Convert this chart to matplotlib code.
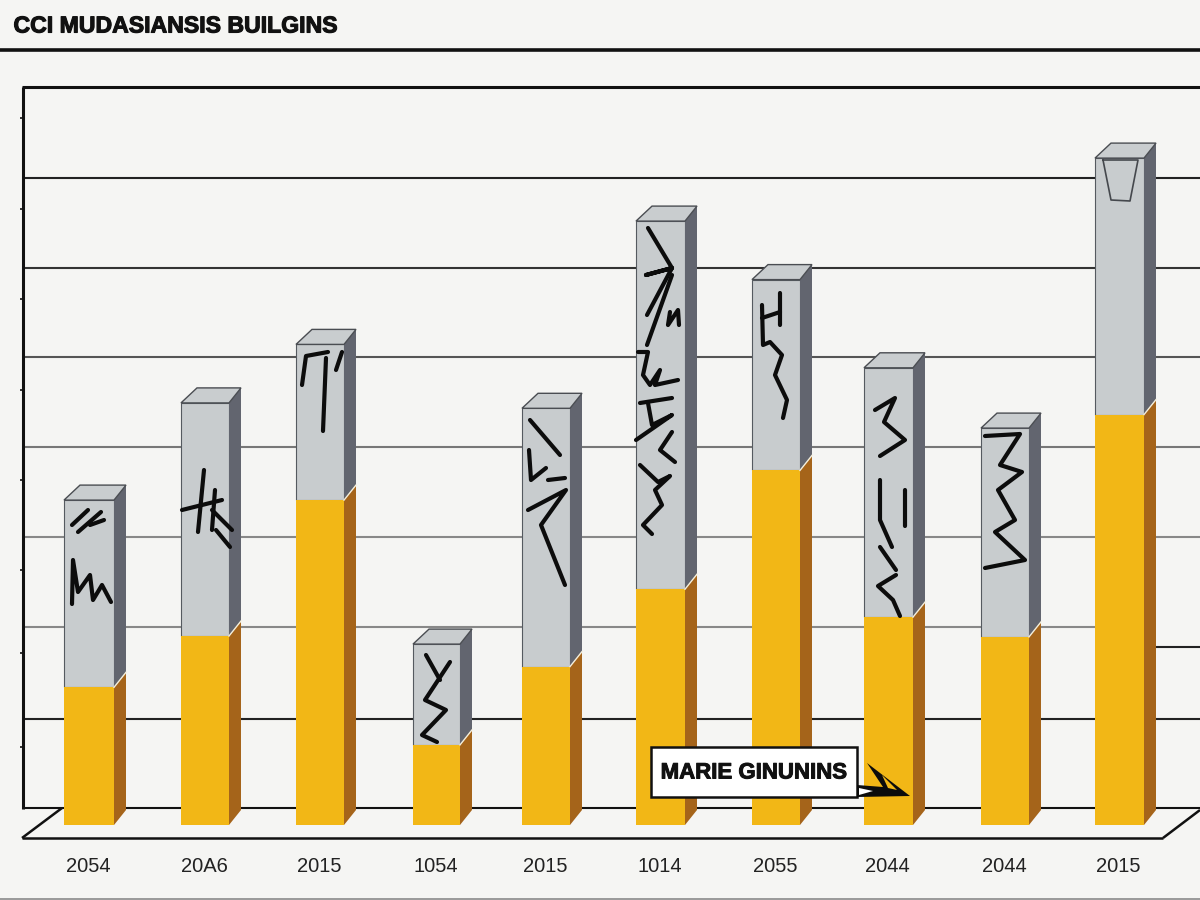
import matplotlib
matplotlib.use('Agg')
import matplotlib.pyplot as plt
import matplotlib.patheffects as pe

title = 'CCI MUDASIANSIS BUILGINS'
callout = 'MARIE GINUNINS'
labels = ['2054', '20A6', '2015', '1054', '2015', '1014', '2055', '2044', '2044', '2015']
bar_left = [64, 181, 296, 413, 522, 636, 752, 864, 981, 1095]
bar_width = [50, 48, 48, 47, 48, 49, 48, 49, 48, 49]
# one unit = one grid step, measured from the floor in front of the bars
yellow = [1.53, 2.10, 3.61, 0.89, 1.76, 2.62, 3.94, 2.31, 2.09, 4.56]
total = [3.61, 4.69, 5.34, 2.01, 4.63, 6.71, 6.06, 5.08, 4.41, 7.41]

STEP = 90
FLOOR = 825
DX = 12
DY = 15


def yv(py):
    # pixel row to value
    return (FLOOR - py) / STEP


def line(xs, pys, color='#111111', lw=1.5, z=2, **kw):
    ax.plot(xs, [yv(p) for p in pys], color=color, lw=lw, zorder=z,
            solid_capstyle='butt', **kw)


def scribble(points, lw=3.0, color='#0c0c0c'):
    xs = [p[0] for p in points]
    ys = [yv(p[1]) for p in points]
    ax.plot(xs, ys, color=color, lw=lw, zorder=8, solid_capstyle='round',
            solid_joinstyle='round')


def poly(points, color, z=11):
    ax.fill([p[0] for p in points], [yv(p[1]) for p in points], color=color, lw=0, zorder=z)


bg = '#f5f5f3'
fig = plt.figure(figsize=(12, 9), dpi=100, facecolor=bg)
ax = fig.add_axes([0, 0, 1, 1])
ax.set_xlim(0, 1200)
ax.set_ylim(yv(900), yv(0))
ax.axis('off')

# header rule and wall
line([0, 1200], [50, 50], lw=2.6)
line([22, 1200], [87, 87], lw=2.2)
line([23, 23], [87, 809], lw=2.2)

# horizontal grid, fades to grey in the middle
grid_rows = [178, 268, 357, 447, 537, 627, 719, 808]
grid_cols = ['#222222', '#333333', '#555555', '#777777', '#888888', '#888888', '#222222', '#111111']
for r, c in zip(grid_rows, grid_cols):
    if r == 627:
        line([23, 1156], [r, r], color=c, lw=1.5, z=1)
    else:
        line([23, 1200], [r, r], color=c, lw=1.5, z=1)
line([1156, 1200], [647, 647], color='#222222', lw=1.5, z=1)

# small ticks on the wall
for r in [118, 209, 299, 390, 480, 570, 653, 747]:
    line([20, 23], [r, r], lw=1.2)

# floor
line([22, 1163], [838, 838], lw=1.8, z=1)
line([22, 62], [838, 808], lw=1.8, z=1)
line([1163, 1200], [838, 810], lw=1.8, z=1)
line([0, 1200], [899, 899], color='#8a8a8a', lw=1.2, z=1)

dy = DY / STEP
for x, w, yel, tot, lab in zip(bar_left, bar_width, yellow, total, labels):
    ax.bar(x, yel, w, align='edge', color='#f2b716', zorder=4)
    ax.bar(x, tot - yel, w, bottom=yel, align='edge', color='#c8ccce',
           edgecolor='#555a60', linewidth=0.8, zorder=3)
    # side faces
    r = x + w
    ax.fill([r, r + DX, r + DX, r], [0, dy, yel + dy, yel], color='#a5641a', zorder=4, lw=0)
    ax.fill([r, r + DX, r + DX, r], [yel, yel + dy, tot + dy, tot], color='#62656f', zorder=3, lw=0)
    # top face
    ax.fill([x, x + DX + 4, r + DX, r], [tot, tot + dy, tot + dy, tot],
            facecolor='#c9cdcf', edgecolor='#4a4d52', lw=1.0, zorder=5)
    ax.plot([r, r + DX], [yel, yel + dy], color='#f4efdc', lw=1.0, zorder=5)
    ax.text(x + w / 2 - 1, yv(866), lab, ha='center', va='center', fontsize=14.5,
            family='Liberation Sans', color='#222222')

# handwritten marks on the grey parts
strokes = [
    [(72, 525), (88, 510)], [(78, 532), (101, 512)], [(90, 525), (104, 520)],
    [(72, 604), (73, 560), (78, 592), (90, 575), (93, 600), (102, 585), (111, 602)],
    [(182, 510), (222, 500)], [(204, 470), (198, 532)], [(215, 490), (212, 530)],
    [(212, 510), (232, 530)], [(216, 530), (230, 547)],
    [(302, 385), (306, 356), (328, 352)], [(326, 358), (323, 431)], [(342, 352), (336, 370)],
    [(426, 655), (440, 680)], [(450, 662), (425, 700), (446, 710), (422, 735), (437, 742)],
    [(530, 420), (560, 455)], [(529, 450), (531, 480), (546, 468)],
    [(528, 510), (566, 490), (541, 525), (565, 585)], [(548, 480), (565, 478)],
    [(648, 228), (672, 268), (646, 275), (672, 268), (647, 315)], [(672, 275), (647, 345)],
    [(670, 312), (668, 325), (678, 310), (679, 325)],
    [(638, 352), (648, 352), (643, 375), (650, 385), (660, 370), (655, 385), (678, 380)],
    [(640, 403), (672, 398)], [(648, 403), (652, 425), (672, 415), (636, 440)],
    [(672, 432), (660, 450), (675, 462)], [(640, 465), (658, 482), (670, 476), (655, 490),
                                            (662, 505), (643, 525), (652, 534)],
    [(762, 305), (763, 345), (770, 342), (782, 355), (775, 375), (787, 400), (783, 418)],
    [(780, 293), (780, 325)], [(762, 318), (780, 312)],
    [(875, 410), (895, 398), (884, 422), (905, 440), (880, 456)],
    [(880, 480), (880, 520), (892, 547)], [(905, 490), (905, 526)], [(880, 547), (896, 570)],
    [(896, 575), (878, 586), (893, 600), (900, 616)],
    [(985, 436), (1020, 434), (1000, 465), (1022, 472), (998, 490), (1015, 520),
     (995, 532), (1025, 560), (985, 568)],
]
for s in strokes:
    scribble(s)
scribble([(1103, 160), (1138, 160), (1130, 201), (1111, 200), (1103, 160)], lw=1.2, color='#45484d')

# title sits hard against the left edge
ax.text(336, yv(26), title, ha='right', va='center', fontsize=16.6, fontweight='bold',
        family='Liberation Sans', color='#111111',
        path_effects=[pe.withStroke(linewidth=0.8, foreground='#111111')])

# callout box and arrow
ax.fill([651, 857, 857, 651], [yv(747), yv(747), yv(797), yv(797)], facecolor='white',
        edgecolor='#111111', lw=1.8, zorder=9)
ax.text(754, yv(773), callout, ha='center', va='center', fontsize=16, fontweight='bold',
        family='Liberation Sans', color='#111111', zorder=10,
        path_effects=[pe.withStroke(linewidth=0.7, foreground='#111111')])
poly([(867, 763), (910, 796), (857, 797), (857, 785), (883, 787)], '#0c0c0c', z=9)
poly([(859, 788), (873, 791), (859, 795)], 'white')
poly([(882, 775), (897, 790), (888, 788)], '#f2b716')

fig.savefig('out.png', dpi=100, facecolor=bg)
